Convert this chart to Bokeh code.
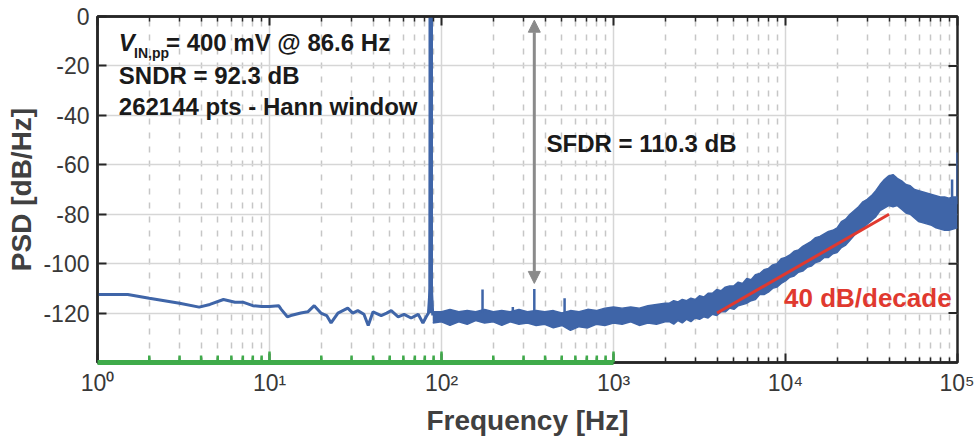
import math
from bokeh.plotting import figure
from bokeh.models import (Range1d, FixedTicker, LogAxis, CustomJSTickFormatter,
                          Arrow, NormalHead, Label)
from bokeh.embed import file_html
from bokeh.resources import INLINE

# ---------------- data ----------------
freq_low = [1, 1.5, 2, 3, 3.9, 4.5, 5.4, 6.3, 7, 8, 9, 10, 11.3, 11.7, 12.7, 13.3, 15.2,
            16.7, 18.2, 19.9, 21.5, 22.8, 25, 28.5, 30.5, 32.6, 35.4, 37.5, 40, 44.6, 48,
            51, 56, 60.6, 66.6, 73.2, 78, 81.5, 84, 85.8, 86.6, 87.4, 89]
psd_low = [-112.5, -112.5, -114, -116, -117.6, -116.5, -114.5, -115.6, -115.6, -117, -117.3,
           -117.3, -117, -118.5, -121.5, -121, -120, -119.5, -117, -120, -121, -124, -120,
           -118, -120, -119, -120.5, -125, -119.5, -121, -120, -119, -121.5, -120.5, -122,
           -120.5, -124, -121.5, -120, -110, 0, -110, -121]

band_freq = [89, 100, 112, 126, 141, 158, 178, 200, 224, 251, 282, 316, 355, 398, 447, 501,
             562, 631, 708, 794, 891, 1000, 1122, 1259, 1413, 1585, 1778, 1995,
             2113, 2239, 2371, 2512, 2661, 2818, 2985, 3162, 3350, 3548, 3758, 3981, 4217,
             4467, 4732, 5012, 5309, 5623, 5957, 6310, 6683, 7079, 7499, 7943, 8414, 8913,
             9441, 10000, 10593, 11220, 11885, 12589, 13335, 14125, 14962, 15849, 16788,
             17783, 18836, 19953, 21135, 22387, 23714, 25119, 26607, 28184, 29854, 31623,
             33497, 35481, 37584, 39811, 42170, 44668, 47315, 50119, 53088, 56234, 59566,
             63096, 66834, 70795, 74989, 79433, 84140, 89125, 94406, 100000]
band_hi = [-119.5, -119.5, -118.5, -119.5, -119, -119.5, -118.5, -119.5, -119, -119.5, -118.5,
           -119.5, -119, -119.5, -119, -120, -119, -119.5, -118.5, -119, -118, -117.5, -118,
           -117.5, -118, -117, -116.5, -116,
           -116, -115, -115.5, -114.5, -115, -114, -114.5, -113, -113.5, -112, -112, -110.5,
           -111, -109.5, -109, -109, -107.5, -108, -106, -106.5, -104.5, -104, -102.5, -102,
           -100.5, -100, -98, -97.5, -96.5, -95, -94.5, -93, -92, -91, -89.5, -89, -88, -87,
           -86.5, -85.5, -83, -82, -80, -78.5, -77, -75, -74, -72.5, -70.5, -68, -66, -64.5,
           -64, -65.5, -66.5, -68, -68.5, -70, -70.5, -71, -71.5, -72, -72.5, -73, -73,
           -73.5, -73, -73]
band_lo = [-124, -123.5, -125, -123.5, -124.5, -123, -124, -123.5, -125, -123.5, -124.5,
           -124, -125, -124.5, -126, -125, -127, -125.5, -126, -124.5, -125, -124, -124.5,
           -123.5, -125, -124, -124.5, -123.5,
           -123.5, -124.5, -123, -124, -122.5, -123.5, -122, -122.5, -121.5, -122, -120.5,
           -121, -119.5, -119.5, -118, -118.5, -117, -116.5, -116, -115, -114.5, -112.5,
           -112.5, -111.5, -110, -109.5, -108, -107, -105.5, -105, -103.5, -103, -101.5, -101,
           -99.5, -99, -97.5, -97.5, -96, -95.5, -93.5, -92.5, -90.5, -88.5, -87, -85.5, -84,
           -82.5, -81, -78.5, -77.5, -76.5, -77, -76.5, -78, -79.5, -80, -81.5, -83, -83.5,
           -84, -84.5, -85.5, -86, -86.5, -86.5, -86, -85.5]

fund_freq = 86.6
fund_psd = 0
spike_freq = [173.2, 259.8, 346.4, 519.6, 93000, 100000]
spike_top = [-110.5, -117.5, -110.3, -114, -66, -55]
spike_base = [-120, -120, -120, -120, -76, -76]

slope_freq = [4000, 40000]
slope_psd = [-120, -80]

sfdr_freq = 346.4
sfdr_span = [-108, -1.5]

x_ticks = [1, 10, 100, 1000, 10000, 100000]
y_ticks = [-120, -100, -80, -60, -40, -20, 0]
x_range = [1, 100000]
y_range = [-140, 0]
green_span = [1, 1000]

# ---------------- styling ----------------
BLUE = "#3f65a8"
FONT = "Liberation Sans"
AX = "#262626"
TXT = "#383838"

p = figure(width=974, height=440, x_axis_type="log",
           x_range=Range1d(*x_range), y_range=Range1d(*y_range),
           min_border_left=97, min_border_right=17, min_border_top=16, min_border_bottom=78,
           output_backend="svg", toolbar_location=None)
p.outline_line_color = AX
p.outline_line_width = 2.5
p.background_fill_color = "white"

minor = [m * d for d in x_ticks[:-1] for m in range(2, 10)]
xticker = FixedTicker(ticks=x_ticks, minor_ticks=minor)
yticker = FixedTicker(ticks=y_ticks)

sup = CustomJSTickFormatter(code="""
const s = ['\u2070','\u00b9','\u00b2','\u00b3','\u2074','\u2075'];
return '10' + s[Math.round(Math.log10(tick))];
""")
plain = CustomJSTickFormatter(code="return tick.toFixed(0);")
blank = CustomJSTickFormatter(code="return '';")

xa = p.xaxis[0]
xa.ticker = xticker
xa.formatter = sup
ya = p.yaxis[0]
ya.ticker = yticker
ya.formatter = plain

for ax in (xa, ya):
    ax.axis_line_color = AX
    ax.axis_line_width = 2.5
    ax.major_tick_in = 9
    ax.major_tick_out = 0
    ax.minor_tick_in = 5
    ax.minor_tick_out = 0
    ax.major_tick_line_color = AX
    ax.minor_tick_line_color = AX
    ax.major_tick_line_width = 2
    ax.minor_tick_line_width = 1.5
    ax.major_label_text_font = FONT
    ax.major_label_text_font_size = "23px"
    ax.major_label_text_color = TXT
    ax.axis_label_text_font = FONT
    ax.axis_label_text_font_style = "bold"
    ax.axis_label_text_color = "#404040"
ya.minor_tick_line_color = None
xa.major_label_standoff = 7
ya.major_label_standoff = 8
xa.axis_label = "Frequency [Hz]"
xa.axis_label_text_font_size = "28px"
xa.axis_label_standoff = 6
ya.axis_label = "PSD [dB/Hz]"
ya.axis_label_text_font_size = "28px"
ya.axis_label_standoff = 3

top = LogAxis(ticker=xticker, formatter=blank, major_label_text_font_size="2px",
              major_label_standoff=0,
              axis_line_color=AX, axis_line_width=2.5, major_tick_in=9, major_tick_out=0,
              minor_tick_in=5, minor_tick_out=0, major_tick_line_width=2,
              minor_tick_line_width=1.5, major_tick_line_color=AX, minor_tick_line_color=AX)
p.add_layout(top, "above")

p.xgrid.ticker = xticker
p.ygrid.ticker = yticker
p.xgrid.grid_line_color = "#d6d6d6"
p.xgrid.grid_line_width = 1.5
p.xgrid.minor_grid_line_color = "#c6c6c6"
p.xgrid.minor_grid_line_width = 1.5
p.xgrid.minor_grid_line_dash = "6 8"
p.ygrid.grid_line_color = "#d6d6d6"
p.ygrid.grid_line_width = 1.5

# right-hand inward ticks (box style)
p.ray(x=[x_range[1]] * len(y_ticks), y=y_ticks, length=9, length_units="screen",
      angle=math.pi, line_color=AX, line_width=2)

# ---------------- glyphs ----------------
p.varea(x=band_freq, y1=band_lo, y2=band_hi, fill_color=BLUE)
p.line(band_freq, band_hi, line_color=BLUE, line_width=1.5)
p.line(band_freq, band_lo, line_color=BLUE, line_width=1.5)
p.line(freq_low, psd_low, line_color=BLUE, line_width=3)
p.segment(x0=[fund_freq], y0=[-120], x1=[fund_freq], y1=[fund_psd],
          line_color=BLUE, line_width=4.5)
p.segment(x0=spike_freq, y0=spike_base, x1=spike_freq, y1=spike_top,
          line_color=BLUE, line_width=2.5)
p.line(slope_freq, slope_psd, line_color="#e0392f", line_width=3)

GREEN = "#3fab4a"
p.segment(x0=[green_span[0]], y0=[y_range[0]], x1=[green_span[1]], y1=[y_range[0]],
          line_color=GREEN, line_width=5, level="overlay")
g_minor = [t for t in minor if green_span[0] < t < green_span[1]]
g_major = [t for t in x_ticks if green_span[0] < t <= green_span[1]]
p.ray(x=g_minor, y=[y_range[0]] * len(g_minor), length=7, length_units="screen",
      angle=math.pi / 2, line_color=GREEN, line_width=2.5, level="overlay")
p.ray(x=g_major, y=[y_range[0]] * len(g_major), length=11, length_units="screen",
      angle=math.pi / 2, line_color=GREEN, line_width=2.5, level="overlay")

head = dict(size=12, fill_color="#8a8a8a", line_color="#8a8a8a")
p.add_layout(Arrow(start=NormalHead(**head), end=NormalHead(**head),
                   x_start=sfdr_freq, y_start=sfdr_span[0], x_end=sfdr_freq, y_end=sfdr_span[1],
                   line_color="#8a8a8a", line_width=3))

def lab(x, y, text, size="24px", color="#1a1a1a", style="bold"):
    p.add_layout(Label(x=x, y=y, text=text, text_font=FONT, text_font_size=size,
                       text_color=color, text_font_style=style, text_baseline="middle"))

lab(1.33, -10.7, "V", style="bold italic")
lab(1.63, -14.8, "IN,pp", size="14px")
lab(2.5, -10.7, "= 400 mV @ 86.6 Hz")
lab(1.33, -23.9, "SNDR = 92.3 dB")
lab(1.33, -36.4, "262144 pts - Hann window")
lab(408, -51.4, "SFDR = 110.3 dB")
lab(9800, -113.7, "40 dB/decade", size="26px", color="#e0392f")

open("out.html", "w").write(file_html(p, INLINE))
